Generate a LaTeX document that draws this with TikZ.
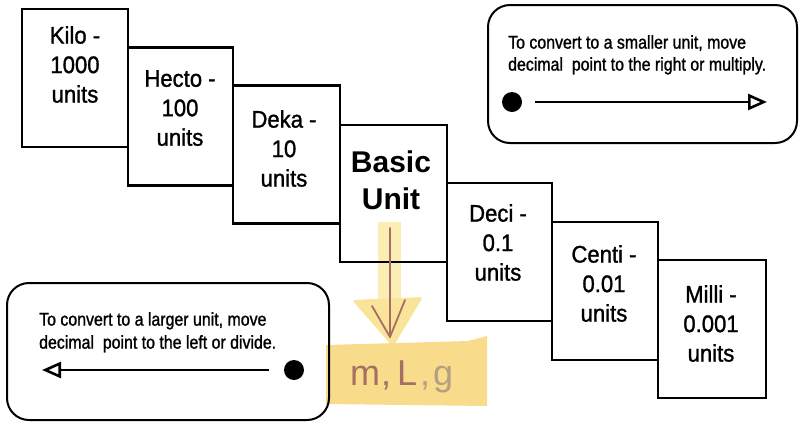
\documentclass[tikz,border=0pt]{standalone}
\usepackage{fontspec}
\setmainfont{Liberation Sans}
\newfontfamily\stepfont[FakeStretch=0.92, FakeBold=1.2]{Liberation Sans}
\newfontfamily\notefont[FakeStretch=0.86, FakeBold=1.2]{Liberation Sans}
\usetikzlibrary{arrows.meta}
\definecolor{hlstripe}{RGB}{252,237,180}
\definecolor{hlarrow}{RGB}{250,228,155}
\definecolor{hlmark}{RGB}{248,220,140}
\definecolor{pencil}{RGB}{165,112,98}
\definecolor{pencilg}{RGB}{178,160,128}

\begin{document}
\begin{tikzpicture}[x=1pt,y=-1pt,
  stepbox/.style={draw, line width=2.6pt, inner sep=0pt, minimum width=106pt, minimum height=138pt},
  steptext/.style={anchor=north, align=center, inner sep=0pt, font=\stepfont\fontsize{24}{29.5}\selectfont},
  notebox/.style={draw, line width=2pt, rounded corners=22pt, inner sep=0pt},
  notetext/.style={anchor=north west, align=left, inner sep=0pt, font=\notefont\fontsize{18.5}{22}\selectfont},
  dot/.style={circle, fill=black, inner sep=0pt, minimum size=20pt},
  movearrow/.style={line width=2pt, -{Triangle[open, length=19pt, width=16pt, line width=2.6pt]}},
  pencilline/.style={draw=pencil, line width=1.8pt, line cap=round, line join=round},
]
\useasboundingbox (0,0) rectangle (806,424);

% highlighter marks below the basic unit
\fill[hlstripe] (378,222) rectangle (401,302);
\fill[hlarrow, rounded corners=3pt] (352,300) -- (423,297) -- (393,347) -- cycle;
\fill[hlmark] (326,345) -- (468,341) -- (487,336) -- (487,406) -- (326,404) -- cycle;

% the staircase of prefixes
\node[stepbox] (kilo) at (75,78) {};
\node[stepbox, minimum width=105pt] (hecto) at (180.5,116.5) {};
\node[stepbox, minimum width=107pt] (deka) at (286.5,154.5) {};
\node[stepbox, minimum width=107pt, minimum height=137pt] (basic) at (393.5,193.5) {};
\node[stepbox, minimum width=105pt] (deci) at (499.5,252) {};
\node[stepbox] (centi) at (605,291) {};
\node[stepbox, minimum width=108pt] (milli) at (712,329) {};

\node[steptext] (kiloT) at (75,26) {Kilo -\\1000\\units};
\node[steptext] (hectoT) at (180,70) {Hecto -\\100\\units};
\node[steptext] (dekaT) at (284,110) {Deka -\\10\\units};
\node[steptext, font=\fontsize{30}{37}\selectfont\bfseries] (basicT) at (391,150.5) {Basic\\Unit};
\node[steptext] (deciT) at (498,204) {Deci -\\0.1\\units};
\node[steptext] (centiT) at (604,245) {Centi -\\0.01\\units};
\node[steptext] (milliT) at (711,285) {Milli -\\0.001\\units};

% rule for moving to a smaller unit
\node[notebox, minimum width=309pt, minimum height=138pt] (smaller) at (642.5,74) {};
\node[notetext] (smallerT) at (508,35) {To convert to a smaller unit, move\\decimal\ \ point to the right or multiply.};
\node[dot] (dotR) at (512,102) {};
\coordinate (tipR) at (767,102);
\draw[movearrow] ([xshift=13pt]dotR.east) -- (tipR);

% rule for moving to a larger unit
\node[notebox, minimum width=322pt, minimum height=137pt] (larger) at (168,351.5) {};
\node[notetext, font=\notefont\fontsize{18.5}{23}\selectfont] (largerT) at (39,312) {To convert to a larger unit, move\\decimal\ \ point to the left or divide.};
\node[dot] (dotL) at (294,370) {};
\coordinate (tipL) at (42,370);
\draw[movearrow] ([xshift=-15pt]dotL.west) -- (tipL);

% pencil note: base units
\coordinate (penTop) at (390,228);
\coordinate (penEnd) at (390,337);
\draw[pencilline] (penTop) -- (penEnd);
\draw[pencilline] (penEnd) ++(-18,-31) -- (penEnd) -- ++(15,-37);
\node[font=\fontsize{36}{36}\selectfont, text=pencil, anchor=base west, inner sep=0pt] (mlg) at (350,385)
  {m\kern1pt,\kern6pt L\kern3pt{\color{pencilg},\kern3pt g}};
\end{tikzpicture}
\end{document}
